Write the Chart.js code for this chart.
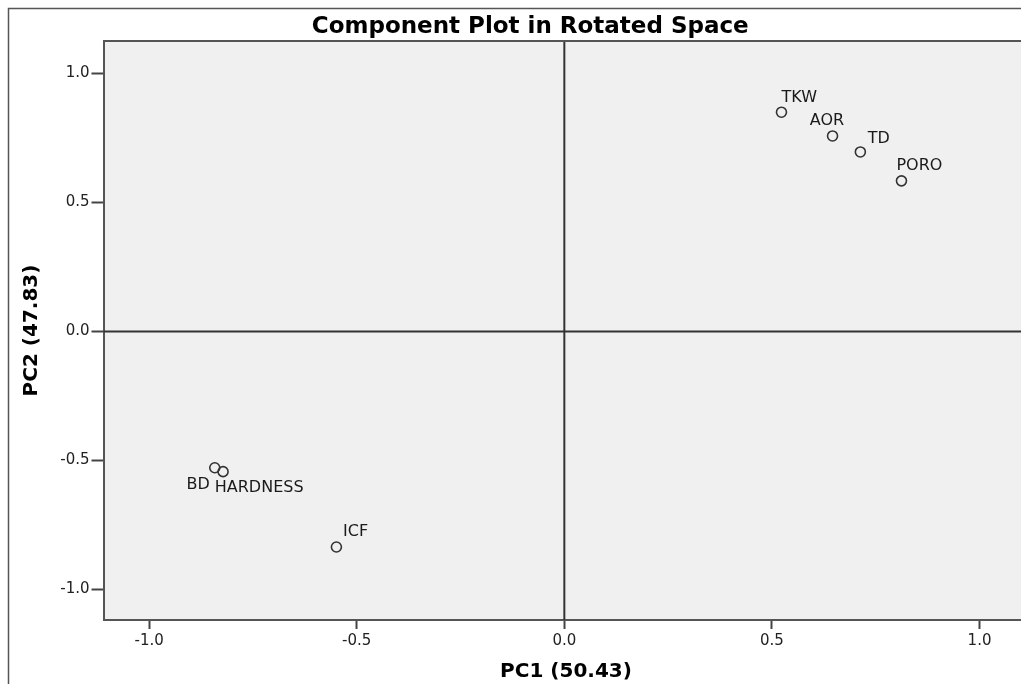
<!DOCTYPE html>
<html>
<head>
<meta charset="utf-8">
<title>Component Plot in Rotated Space</title>
<script src="https://cdn.jsdelivr.net/npm/chart.js@4.4.1/dist/chart.umd.min.js"></script>
<style>
  html, body { margin: 0; padding: 0; background: #fff; overflow: hidden; }
  #wrap { width: 1060px; height: 684px; }
</style>
</head>
<body>
<div id="wrap"><canvas id="plot" width="1060" height="684"></canvas></div>
<script>
// Component loadings
const variables = ['TKW', 'AOR', 'TD', 'PORO', 'BD', 'HARDNESS', 'ICF']
const pc1 = [0.523, 0.646, 0.713, 0.812, -0.842, -0.822, -0.549]
const pc2 = [0.850, 0.758, 0.696, 0.584, -0.528, -0.543, -0.835]

const xTicks = [-1.0, -0.5, 0.0, 0.5, 1.0]
const yTicks = [-1.0, -0.5, 0.0, 0.5, 1.0]

// where each point label sits relative to its marker (px)
const labelOffsets = [[0, -10.6], [-22.7, -11], [7.3, -9.3], [-5, -10.7], [-28.3, 21.3], [-8.3, 20], [6.6, -11]]

const FONT = "'DejaVu Sans', sans-serif"

// Plot frame, background, zero lines and outer border
const framePlugin = {
  id: 'frame',
  beforeDraw(chart) {
    const { ctx, chartArea: a, width, height } = chart
    ctx.save()
    ctx.fillStyle = '#ffffff'
    ctx.fillRect(0, 0, width, height)
    ctx.fillStyle = '#f0f0f0'
    ctx.fillRect(a.left, a.top, a.right - a.left, a.bottom - a.top)
    // outer frame
    ctx.strokeStyle = '#555'
    ctx.lineWidth = 1.5
    ctx.beginPath()
    ctx.moveTo(8.5, height)
    ctx.lineTo(8.5, 8.5)
    ctx.lineTo(width, 8.5)
    ctx.stroke()
    ctx.restore()
  },
  beforeDatasetsDraw(chart) {
    const { ctx, chartArea: a, scales } = chart
    const x0 = scales.x.getPixelForValue(0)
    const y0 = scales.y.getPixelForValue(0)
    ctx.save()
    ctx.strokeStyle = '#333'
    ctx.lineWidth = 2
    ctx.beginPath()
    ctx.moveTo(x0, a.top)
    ctx.lineTo(x0, a.bottom)
    ctx.moveTo(a.left, y0)
    ctx.lineTo(a.right, y0)
    ctx.stroke()
    // top edge of the plot box
    ctx.strokeStyle = '#555'
    ctx.beginPath()
    ctx.moveTo(a.left, a.top)
    ctx.lineTo(a.right, a.top)
    ctx.stroke()
    ctx.restore()
  },
  afterDatasetsDraw(chart) {
    const { ctx } = chart
    const meta = chart.getDatasetMeta(0)
    ctx.save()
    ctx.font = '16px ' + FONT
    ctx.fillStyle = '#1a1a1a'
    ctx.textAlign = 'left'
    ctx.textBaseline = 'alphabetic'
    meta.data.forEach((pt, i) => {
      const [dx, dy] = labelOffsets[i]
      ctx.fillText(variables[i], pt.x + dx, pt.y + dy)
    })
    ctx.restore()
  }
}

const ctx = document.getElementById('plot').getContext('2d')
new Chart(ctx, {
  type: 'scatter',
  data: {
    datasets: [{
      label: 'Loadings',
      data: pc1.map((v, i) => ({ x: v, y: pc2[i] })),
      pointStyle: 'circle',
      pointRadius: 5,
      pointHoverRadius: 5,
      backgroundColor: 'rgba(0,0,0,0)',
      borderColor: '#333',
      borderWidth: 1.6
    }]
  },
  options: {
    responsive: false,
    animation: false,
    devicePixelRatio: 1,
    // left padding keeps the title centred like the original; y axis width makes up for it
    layout: { padding: { left: 32, right: 31.5, top: 0, bottom: 0 } },
    plugins: {
      legend: { display: false },
      tooltip: { enabled: false },
      title: {
        display: true,
        text: 'Component Plot in Rotated Space',
        color: '#000',
        font: { family: FONT, size: 23, weight: 'bold', lineHeight: 1.2 },
        padding: { top: 13, bottom: 0.4 }
      }
    },
    scales: {
      x: {
        type: 'linear',
        min: -1.11,
        max: 1.118,
        afterFit: s => { s.height = 64 },
        afterBuildTicks: s => { s.ticks = xTicks.map(v => ({ value: v })) },
        ticks: {
          callback: v => v.toFixed(1),
          color: '#222',
          font: { family: FONT, size: 15 },
          padding: 3,
          maxRotation: 0
        },
        grid: { drawOnChartArea: false, drawTicks: true, tickLength: 9, tickColor: '#444', tickWidth: 2 },
        border: { display: true, color: '#555', width: 2 },
        title: {
          display: true,
          text: 'PC1 (50.43)',
          color: '#000',
          font: { family: FONT, size: 20, weight: 'bold', lineHeight: 1.2 },
          padding: { top: 0, bottom: 0 }
        }
      },
      y: {
        type: 'linear',
        min: -1.118,
        max: 1.126,
        afterFit: s => { s.width = 71.5 },
        afterBuildTicks: s => { s.ticks = yTicks.map(v => ({ value: v })) },
        ticks: {
          callback: v => v.toFixed(1),
          color: '#222',
          font: { family: FONT, size: 15 },
          padding: 2
        },
        grid: { drawOnChartArea: false, drawTicks: true, tickLength: 12, tickColor: '#444', tickWidth: 2 },
        border: { display: true, color: '#555', width: 2 },
        title: {
          display: true,
          text: 'PC2 (47.83)',
          color: '#000',
          font: { family: FONT, size: 20, weight: 'bold', lineHeight: 1.2 },
          padding: { top: -12, bottom: 0 }
        }
      }
    }
  },
  plugins: [framePlugin]
})
</script>
</body>
</html>
